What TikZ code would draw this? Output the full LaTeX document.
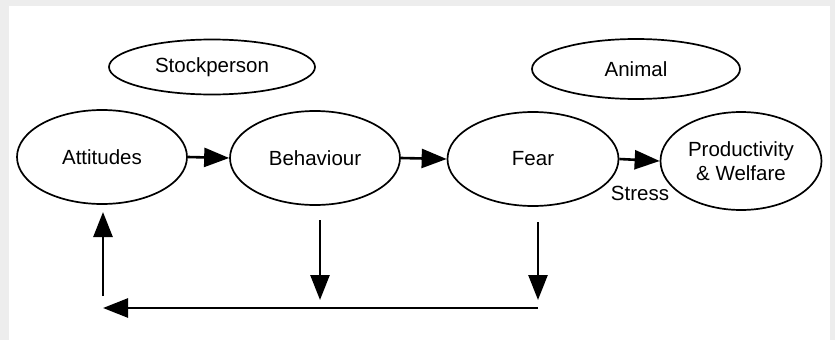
\documentclass[tikz,border=0pt]{standalone}
\usepackage{fontspec}
\setmainfont{Liberation Sans}
\usetikzlibrary{shapes.geometric,arrows.meta}
\definecolor{scanedge}{gray}{0.93}
\tikzset{
  oval/.style={ellipse,draw,line width=1.7pt,inner sep=0pt,font=\fontsize{20.5}{25}\selectfont,align=center},
  flow/.style={line width=2.6pt,-{Triangle[length=25pt,width=19pt]}},
  lbl/.style={font=\fontsize{20.5}{25}\selectfont}
}
\begin{document}
\begin{tikzpicture}[x=1pt,y=-1pt]
\fill[scanedge] (0,0) rectangle (835,340);
\fill[white] (9,6) rectangle (830,340);
\useasboundingbox (0,0) rectangle (835,340);
\node[oval,minimum width=206pt,minimum height=55pt] (stock) at (212,67) {Stockperson};
\node[oval,minimum width=208pt,minimum height=60pt] (animal) at (636,69) {Animal};
\node[oval,minimum width=170pt,minimum height=94pt] (att) at (102,157) {Attitudes};
\node[oval,minimum width=170pt,minimum height=94pt] (beh) at (315,158) {Behaviour};
\node[oval,minimum width=171pt,minimum height=94pt] (fear) at (533,159) {Fear};
\node[oval,minimum width=161pt,minimum height=98pt] (prod) at (741,161) {Productivity\\[-1pt]\& Welfare};
\node[lbl] (stress) at (640,193) {Stress};
\coordinate (bdtop) at (320,220);
\coordinate (bdbot) at (320,300);
\coordinate (fdtop) at (538,222);
\coordinate (fdbot) at (538,300);
\coordinate (bright) at (538,308);
\coordinate (bleft) at (103,308);
\coordinate (upbot) at (103,296);
\coordinate (uptop) at (103,212);
\draw[flow] (att.east) -- (beh.west);
\draw[flow] (beh.east) -- (fear.west);
\draw[flow] (fear.east) -- (prod.west);
\draw[flow] (bdtop) -- (bdbot);
\draw[flow] (fdtop) -- (fdbot);
\draw[flow] (bright) -- (bleft);
\draw[flow] (upbot) -- (uptop);
\end{tikzpicture}
\end{document}
